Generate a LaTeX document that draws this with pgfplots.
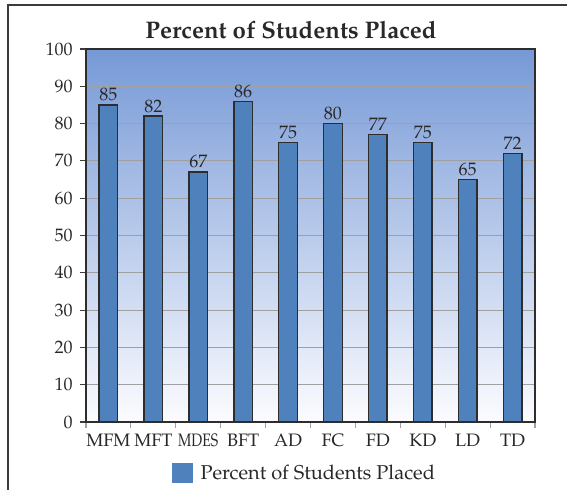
\documentclass[border=0pt]{standalone}
\usepackage[T1]{fontenc}
\usepackage{mathpazo}
\usepackage{graphicx}
\usepackage{pgfplots}
\pgfplotsset{compat=1.18}

\definecolor{barblue}{RGB}{79,129,189}
\definecolor{baredge}{RGB}{45,45,45}
\definecolor{bgtop}{RGB}{118,153,214}
\definecolor{bgmid}{RGB}{198,207,240}
\definecolor{bgbot}{RGB}{252,252,255}
\definecolor{gridgray}{RGB}{160,160,160}
\definecolor{textgray}{RGB}{40,40,40}
\definecolor{framegray}{RGB}{60,60,60}

\pgfplotstableread{
x  pct
0  85
1  82
2  67
3  86
4  75
5  80
6  77
7  75
8  65
9  72
}\placed

\begin{document}
\begin{tikzpicture}
\useasboundingbox (0,0) rectangle (425.25pt,366.75pt);
% outer frame of the chart
\draw[framegray, line width=1.1pt] (6pt,-20pt) -- (6pt,363pt) -- (450pt,363pt);
% title
\node[font=\fontsize{18}{21}\selectfont\bfseries, text=textgray] at (218.25pt,344.5pt) {Percent of Students Placed};
\begin{axis}[
  at={(64.5pt,50.25pt)}, anchor=south west,
  scale only axis,
  width=336.75pt, height=279.75pt,
  xmin=-0.5, xmax=9.5,
  ymin=0, ymax=100,
  ytick={0,10,...,100},
  xtick={0,...,9},
  xticklabels={MFM,MFT,\scalebox{0.78}[1]{MDES},BFT,AD,FC,FD,KD,LD,TD},
  minor xtick={-0.5,0.5,...,9.5},
  xtick pos=bottom, ytick pos=left,
  major x tick style={draw=none},
  minor x tick style={gridgray, line width=0.8pt},
  y tick style={framegray, line width=0.8pt},
  tick align=outside,
  major tick length=4.5pt,
  minor tick length=4.5pt,
  ymajorgrids,
  major grid style={gridgray, line width=0.9pt},
  axis line style={baredge, line width=1.3pt},
  axis background/.style={top color=bgtop, middle color=bgmid, bottom color=bgbot},
  tick label style={font=\fontsize{13.5}{16}\selectfont, text=textgray},
  yticklabel style={xshift=-2pt},
  xticklabel style={yshift=-1pt},
  ybar, bar width=14pt,
  nodes near coords,
  nodes near coords style={font=\fontsize{13.5}{16}\selectfont, text=textgray, yshift=-1pt},
  legend style={at={(0.183,-0.137)}, anchor=west, draw=none, fill=none,
                font=\fontsize{15}{18}\selectfont, text=textgray},
  legend image code/.code={\fill[barblue] (0pt,-6.75pt) rectangle (14.5pt,6.75pt); \path (18pt,0pt);},
]
\addplot[fill=barblue, draw=baredge, line width=1.05pt] table[x=x, y=pct] {\placed};
\addlegendentry{Percent of Students Placed}
\end{axis}
\end{tikzpicture}
\end{document}
